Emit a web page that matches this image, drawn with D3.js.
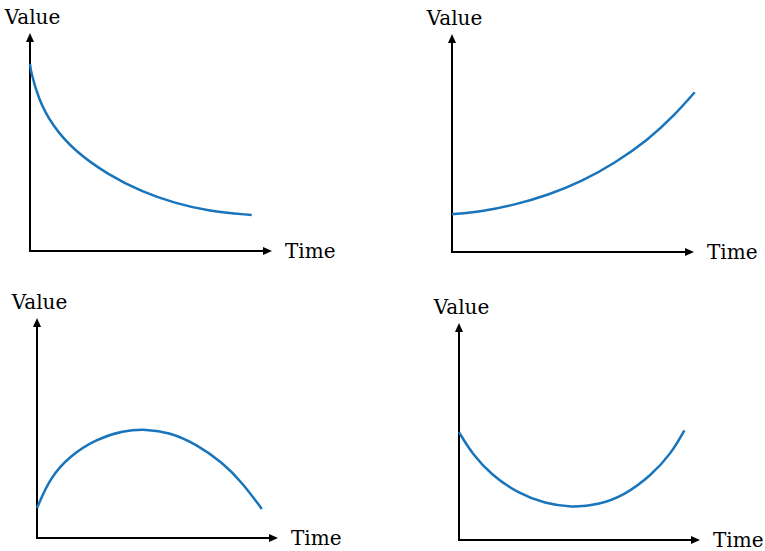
<!DOCTYPE html>
<html>
<head>
<meta charset="utf-8">
<script src="https://cdn.jsdelivr.net/npm/d3@7"></script>
<style>
  html, body { margin: 0; padding: 0; background: #fff; }
  svg { display: block; }
</style>
</head>
<body>
<svg id="chart" width="765" height="551"></svg>
<script>
// ---- data (Time, Value), domain 0..10 on both axes ----
const axisLabels = { x: "Time", y: "Value" };

const decayTime  = [0, 0.04, 0.34, 0.90, 1.86, 3.24, 4.62, 5.99, 7.37, 9.16];
const decayValue = [8.58, 8.21, 7.00, 5.78, 4.56, 3.49, 2.72, 2.19, 1.83, 1.65];

const growthTime  = [0, 1.21, 2.59, 3.97, 5.34, 6.72, 8.10, 9.20, 10.03];
const growthValue = [1.73, 1.85, 2.16, 2.61, 3.22, 4.07, 5.14, 6.28, 7.33];

const peakTime  = [0, 0.54, 1.36, 2.47, 3.57, 4.53, 5.50, 6.60, 7.70, 8.52, 9.33];
const peakValue = [1.36, 2.74, 3.73, 4.50, 4.88, 4.95, 4.80, 4.27, 3.43, 2.51, 1.32];

const valleyTime  = [0, 0.54, 1.36, 2.47, 3.57, 4.67, 5.77, 6.87, 7.98, 8.80, 9.35];
const valleyValue = [4.97, 3.98, 2.98, 2.14, 1.68, 1.50, 1.61, 2.06, 2.98, 3.98, 5.05];

const series = [decayTime, growthTime, peakTime, valleyTime].map((t, i) => ({
  time: t,
  value: [decayValue, growthValue, peakValue, valleyValue][i]
}));

// ---- layout ----
const panels = [
  { ox: 30,  oy: 251, w: 242, h: 218 },
  { ox: 452, oy: 252, w: 242, h: 218 },
  { ox: 37,  oy: 538, w: 241, h: 220 },
  { ox: 459, oy: 540, w: 241, h: 217 }
];
const curveColor = "#1874bb";
const labelStyle = "font-family: 'DejaVu Serif', serif; font-size: 20px; fill: #000";

const svg = d3.select("#chart");

panels.forEach((p, i) => {
  const x = d3.scaleLinear().domain([0, 10]).range([p.ox, p.ox + p.w]);
  const y = d3.scaleLinear().domain([0, 10]).range([p.oy, p.oy - p.h]);
  const g = svg.append("g");

  const x0 = x(0), y0 = y(0), xt = x(10), yt = y(10);
  const aL = 9, aW = 4;

  // axes
  g.append("line").attr("x1", x0).attr("y1", y0 + 1).attr("x2", x0).attr("y2", yt + aL - 1)
    .attr("stroke", "#000").attr("stroke-width", 2);
  g.append("line").attr("x1", x0 - 1).attr("y1", y0).attr("x2", xt - aL + 1).attr("y2", y0)
    .attr("stroke", "#000").attr("stroke-width", 2);
  g.append("path")
    .attr("d", `M${x0},${yt} L${x0 - aW},${yt + aL} L${x0 + aW},${yt + aL} Z`)
    .attr("fill", "#000");
  g.append("path")
    .attr("d", `M${xt},${y0} L${xt - aL},${y0 - aW} L${xt - aL},${y0 + aW} Z`)
    .attr("fill", "#000");

  // labels
  g.append("text").attr("x", x0 + 2.5).attr("y", yt - 9)
    .attr("style", labelStyle)
    .attr("text-anchor", "middle").text(axisLabels.y);
  g.append("text").attr("x", xt + 13).attr("y", y0 + 7)
    .attr("style", labelStyle)
    .attr("text-anchor", "start").text(axisLabels.x);

  // curve
  const s = series[i];
  const pts = s.time.map((t, k) => [t, s.value[k]]);
  const line = d3.line().x(d => x(d[0])).y(d => y(d[1])).curve(d3.curveBasis);
  g.append("path").attr("d", line(pts))
    .attr("fill", "none").attr("stroke", curveColor).attr("stroke-width", 2.5)
    .attr("stroke-linecap", "butt");
});
</script>
</body>
</html>
